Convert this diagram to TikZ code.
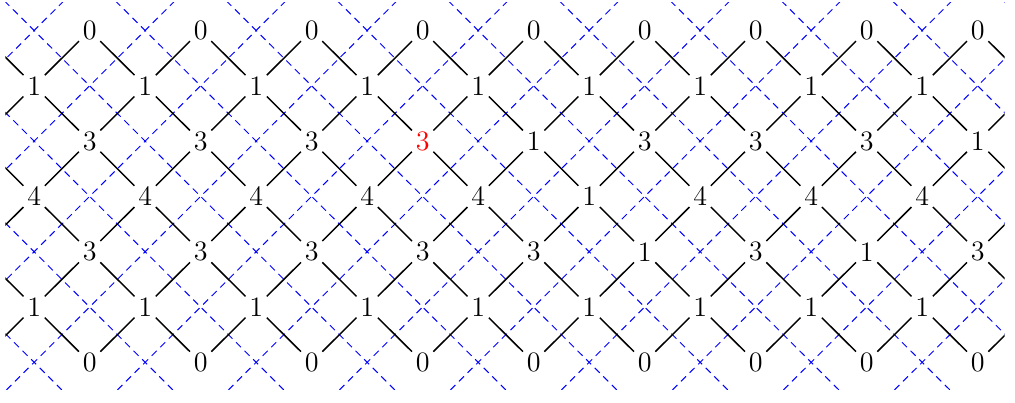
\documentclass[tikz,border=0pt]{standalone}
\begin{document}
\begin{tikzpicture}[x=1cm,y=0.9964cm,
  num/.style={circle,inner sep=0pt,minimum size=0.53cm,font=\Large},
  edge/.style={black,line width=0.75pt},
  dual/.style={blue,dash pattern=on 3.6pt off 2.6pt,line width=0.5pt}]
\useasboundingbox (0,0) rectangle (18.288,-7.2694);
\begin{scope}[shift={(0.615,-0.5515)}]
% numbers
\foreach \j in {1,3,...,17} \node[num] (p\j r0) at (\j,0) {0};
\foreach \j in {0,2,...,16} \node[num] (p\j r1) at (\j,-1) {1};
\foreach \j/\v in {1/3,3/3,5/3,9/1,11/3,13/3,15/3,17/1} \node[num] (p\j r2) at (\j,-2) {\v};
\node[num,text=red] (p7r2) at (7,-2) {3};
\foreach \j/\v in {0/4,2/4,4/4,6/4,8/4,10/1,12/4,14/4,16/4} \node[num] (p\j r3) at (\j,-3) {\v};
\foreach \j/\v in {1/3,3/3,5/3,7/3,9/3,11/1,13/3,15/1,17/3} \node[num] (p\j r4) at (\j,-4) {\v};
\foreach \j in {0,2,...,16} \node[num] (p\j r5) at (\j,-5) {1};
\foreach \j in {1,3,...,17} \node[num] (p\j r6) at (\j,-6) {0};
% virtual nodes beyond the edges
\foreach \r in {0,2,4,6} \node[num] (p-1r\r) at (-1,-\r) {};
\foreach \r in {1,3,5} \node[num] (p18r\r) at (18,-\r) {};
\begin{scope}
\clip (-0.52,0.5015) rectangle (17.485,-6.5);
% dual lattice
\foreach \c in {-8,-6,...,18} \draw[dual] (\c-1,1) -- (\c+7,-7);
\foreach \c in {0,2,...,26} \draw[dual] (\c+1,1) -- (\c-7,-7);
% edges
\foreach \r in {0,2,4}{
  \pgfmathtruncatemacro\s{\r+1}
  \foreach \j in {-1,1,...,17}{
    \pgfmathtruncatemacro\a{\j+1}
    \draw[edge] (p\j r\r) -- (p\a r\s);
  }
  \foreach \j in {1,3,...,17}{
    \pgfmathtruncatemacro\b{\j-1}
    \draw[edge] (p\j r\r) -- (p\b r\s);
  }
}
\foreach \r in {1,3,5}{
  \pgfmathtruncatemacro\s{\r+1}
  \foreach \j in {0,2,...,18}{
    \pgfmathtruncatemacro\b{\j-1}
    \draw[edge] (p\j r\r) -- (p\b r\s);
  }
  \foreach \j in {0,2,...,16}{
    \pgfmathtruncatemacro\a{\j+1}
    \draw[edge] (p\j r\r) -- (p\a r\s);
  }
}
\end{scope}
\end{scope}
\end{tikzpicture}
\end{document}
